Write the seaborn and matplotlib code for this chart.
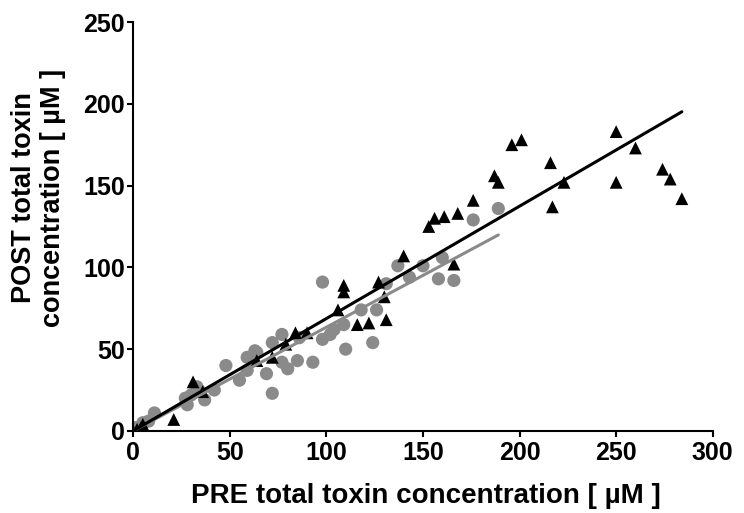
import matplotlib
matplotlib.use("Agg")
import matplotlib.pyplot as plt
import seaborn as sns
import numpy as np

# black triangles
tri_x = [0, 2, 4, 5, 21, 31, 36, 64, 72, 79, 84, 90, 106, 109, 109, 116, 122,
         127, 130, 131, 140, 153, 156, 161, 166, 168, 176, 187, 189, 196, 201,
         216, 217, 223, 250, 250, 260, 274, 278, 284]
tri_y = [0, 1, 2, 4, 7, 30, 24, 43, 45, 53, 60, 60, 74, 89, 85, 65, 66,
         91, 82, 68, 107, 125, 130, 131, 102, 133, 141, 156, 152, 175, 178,
         164, 137, 152, 183, 152, 173, 160, 154, 142]

# grey circles
circ_x = [1, 3, 5, 8, 11, 27, 28, 30, 33, 34, 37, 42, 48, 55, 59, 59, 62, 63,
          64, 69, 72, 72, 77, 77, 80, 85, 86, 93, 98, 98, 102, 104, 109, 110,
          118, 124, 126, 131, 137, 143, 150, 158, 160, 166, 176, 189]
circ_y = [2, 1, 5, 6, 11, 20, 16, 22, 27, 25, 19, 25, 40, 31, 37, 45, 43, 49,
          48, 35, 23, 54, 59, 42, 38, 43, 57, 42, 91, 56, 59, 62, 65, 50,
          74, 54, 74, 90, 101, 94, 101, 93, 106, 92, 129, 136]


def origin_fit(x, y):
    # droite de régression passant par l'origine
    x = np.asarray(x, float)
    y = np.asarray(y, float)
    k = (x * y).sum() / (x * x).sum()
    xs = np.array([0, x.max()])
    return xs, k * xs


fig = plt.figure(figsize=(7.44, 5.13), dpi=100)
ax = fig.add_axes([0.179, 0.160, 0.779, 0.797])
sns.set_style("ticks")

grey = "#8a8a8a"
sns.scatterplot(x=circ_x, y=circ_y, ax=ax, color=grey, marker="o", s=90,
                edgecolor="none", zorder=2)
sns.scatterplot(x=tri_x, y=tri_y, ax=ax, color="black", marker="^", s=85,
                edgecolor="none", zorder=3)
gx, gy = origin_fit(circ_x, circ_y)
bx, by = origin_fit(tri_x, tri_y)
sns.lineplot(x=gx, y=gy, ax=ax, color=grey, lw=2.2, zorder=4)
sns.lineplot(x=bx, y=by, ax=ax, color="black", lw=2.2, zorder=5)

ax.set_xlim(0, 300)
ax.set_ylim(0, 250)
ax.set_xticks(range(0, 301, 50))
ax.set_yticks(range(0, 251, 50))
for s in ["top", "right"]:
    ax.spines[s].set_visible(False)
for s in ["left", "bottom"]:
    ax.spines[s].set_linewidth(1.5)
    ax.spines[s].set_color("black")
ax.tick_params(width=1.5, length=4, labelsize=18, colors="black",
               direction="out")
ax.tick_params(axis="x", pad=3.5)
ax.tick_params(axis="y", pad=2)
for lab in ax.get_xticklabels() + ax.get_yticklabels():
    lab.set_fontfamily("Liberation Sans")
    lab.set_fontweight("bold")

ax.set_xlabel("PRE total toxin concentration [ µM ]", fontsize=20,
              fontweight="bold", family="Liberation Sans", va="center")
ax.set_ylabel("POST total toxin\nconcentration [ µM ]", fontsize=19.5,
              fontweight="bold", family="Liberation Sans", va="center",
              linespacing=1.15)
ax.xaxis.set_label_coords(0.505, -0.158)
ax.yaxis.set_label_coords(-0.163, 0.57)
for sp in ax.spines.values():
    sp.set_clip_on(False)

fig.savefig("out.png", dpi=100)
